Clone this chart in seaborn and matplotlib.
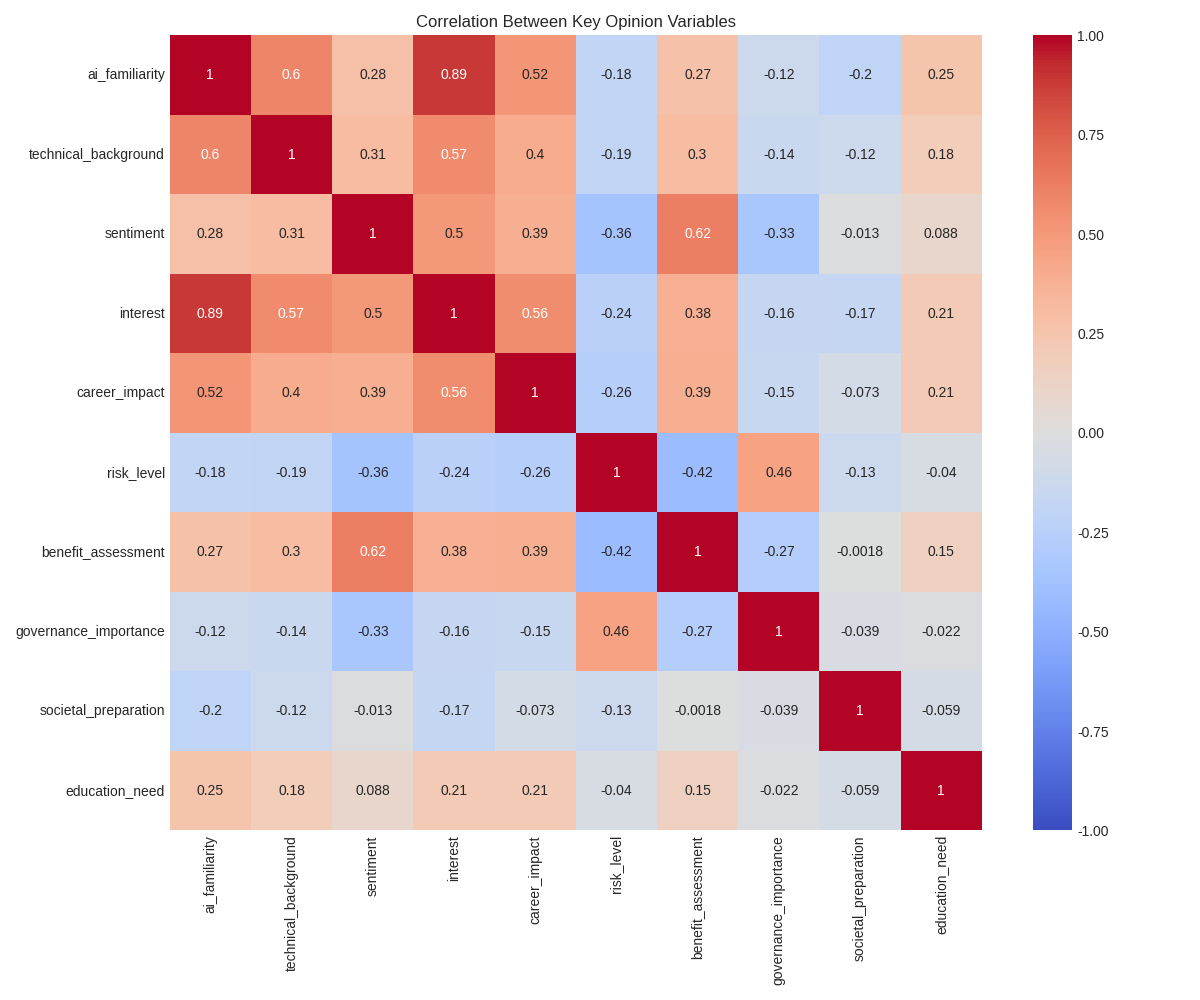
import numpy as np
import pandas as pd
import matplotlib
matplotlib.use("Agg")
import matplotlib.pyplot as plt
import seaborn as sns

variables = ["ai_familiarity", "technical_background", "sentiment", "interest",
             "career_impact", "risk_level", "benefit_assessment",
             "governance_importance", "societal_preparation", "education_need"]

row_ai_familiarity = [1, 0.6, 0.28, 0.89, 0.52, -0.18, 0.27, -0.12, -0.2, 0.25]
row_technical_background = [0.6, 1, 0.31, 0.57, 0.4, -0.19, 0.3, -0.14, -0.12, 0.18]
row_sentiment = [0.28, 0.31, 1, 0.5, 0.39, -0.36, 0.62, -0.33, -0.013, 0.088]
row_interest = [0.89, 0.57, 0.5, 1, 0.56, -0.24, 0.38, -0.16, -0.17, 0.21]
row_career_impact = [0.52, 0.4, 0.39, 0.56, 1, -0.26, 0.39, -0.15, -0.073, 0.21]
row_risk_level = [-0.18, -0.19, -0.36, -0.24, -0.26, 1, -0.42, 0.46, -0.13, -0.04]
row_benefit_assessment = [0.27, 0.3, 0.62, 0.38, 0.39, -0.42, 1, -0.27, -0.0018, 0.15]
row_governance_importance = [-0.12, -0.14, -0.33, -0.16, -0.15, 0.46, -0.27, 1, -0.039, -0.022]
row_societal_preparation = [-0.2, -0.12, -0.013, -0.17, -0.073, -0.13, -0.0018, -0.039, 1, -0.059]
row_education_need = [0.25, 0.18, 0.088, 0.21, 0.21, -0.04, 0.15, -0.022, -0.059, 1]

rows = [row_ai_familiarity, row_technical_background, row_sentiment, row_interest,
        row_career_impact, row_risk_level, row_benefit_assessment,
        row_governance_importance, row_societal_preparation, row_education_need]

corr = pd.DataFrame(rows, index=variables, columns=variables)

plt.style.use("seaborn-v0_8-whitegrid")
plt.rcParams["font.family"] = ["Liberation Sans", "DejaVu Sans"]

fig, ax = plt.subplots(figsize=(12, 10), dpi=100)
sns.heatmap(corr, annot=True, fmt=".2g", cmap="coolwarm", vmin=-1, vmax=1,
            ax=ax, cbar_kws={"format": "%.2f"})
ax.set_title("Correlation Between Key Opinion Variables", fontsize=12)
fig.tight_layout()
fig.savefig("out.png", dpi=100)
